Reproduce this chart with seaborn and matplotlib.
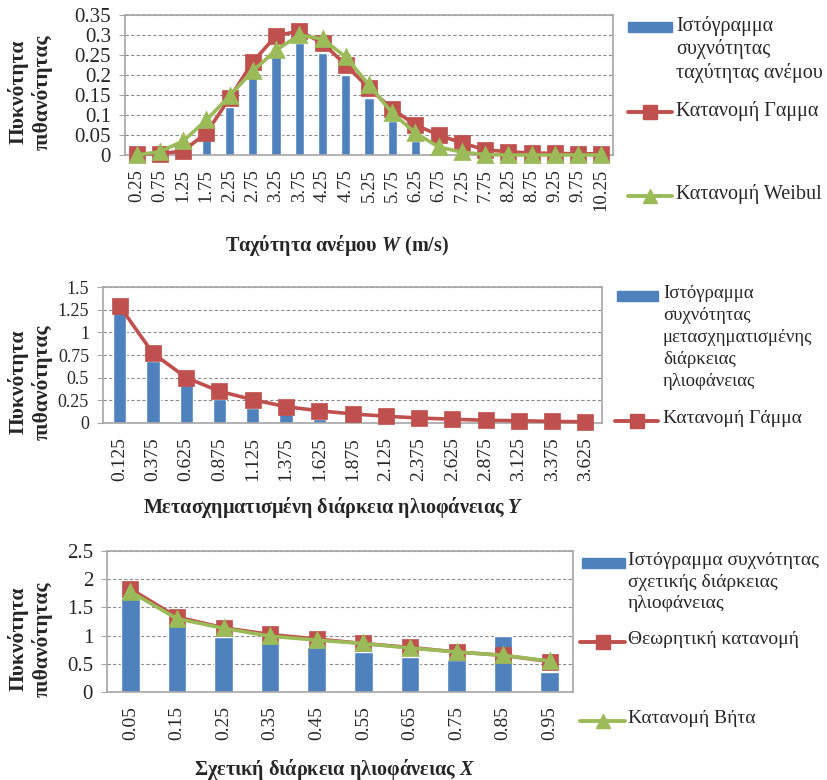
import matplotlib
matplotlib.use("Agg")
import matplotlib.pyplot as plt
from matplotlib.lines import Line2D
from matplotlib.patches import Rectangle
from matplotlib.ticker import FuncFormatter, MultipleLocator
import seaborn as sns

# --- data: wind speed W ---
w_bins = ["0.25", "0.75", "1.25", "1.75", "2.25", "2.75", "3.25", "3.75", "4.25", "4.75",
          "5.25", "5.75", "6.25", "6.75", "7.25", "7.75", "8.25", "8.75", "9.25", "9.75", "10.25"]
w_hist = [0, 0, 0, 0.04, 0.12, 0.2, 0.25, 0.28, 0.255, 0.2,
          0.142, 0.085, 0.035, 0, 0, 0, 0, 0, 0, 0, 0]
w_gamma = [0.002, 0.003, 0.01, 0.055, 0.142, 0.233, 0.298, 0.31, 0.28, 0.225,
           0.167, 0.115, 0.075, 0.05, 0.03, 0.013, 0.008, 0.005, 0.004, 0.003, 0.003]
w_weibull = [0, 0.008, 0.035, 0.087, 0.148, 0.21, 0.262, 0.3, 0.29, 0.245,
             0.175, 0.105, 0.055, 0.02, 0.007, 0.001, 0, 0, 0, 0, 0]

# --- data: transformed sunshine duration Y ---
y_bins = ["0.125", "0.375", "0.625", "0.875", "1.125", "1.375", "1.625", "1.875",
          "2.125", "2.375", "2.625", "2.875", "3.125", "3.375", "3.625"]
y_hist = [1.22, 0.68, 0.42, 0.26, 0.165, 0.1, 0.045, 0, 0, 0, 0, 0, 0, 0, 0]
y_gamma = [1.29, 0.77, 0.5, 0.35, 0.257, 0.18, 0.135, 0.1, 0.075, 0.055,
           0.042, 0.03, 0.025, 0.018, 0.013]

# --- data: relative sunshine duration X ---
x_bins = ["0.05", "0.15", "0.25", "0.35", "0.45", "0.55", "0.65", "0.75", "0.85", "0.95"]
x_hist = [1.66, 1.18, 0.975, 0.86, 0.79, 0.71, 0.62, 0.56, 0.99, 0.355]
x_theor = [1.83, 1.33, 1.14, 1.02, 0.94, 0.86, 0.79, 0.71, 0.65, 0.54]
x_beta = [1.78, 1.3, 1.13, 0.99, 0.92, 0.86, 0.78, 0.71, 0.65, 0.55]

BLUE = "#4F81BD"
RED = "#C0504D"
GREEN = "#9BBB59"
GRID = "#8C8C8C"
SPINE = "#A6A6A6"

sns.set_style("white")
plt.rcParams["font.family"] = ["Liberation Serif", "DejaVu Serif"]
plt.rcParams["mathtext.fontset"] = "custom"
plt.rcParams["mathtext.it"] = "Liberation Serif:italic:bold"
plt.rcParams["mathtext.rm"] = "Liberation Serif:bold"

W, H = 827, 780
fig = plt.figure(figsize=(W / 100, H / 100), dpi=100)


def box(l, t, r, b):
    return [l / W, 1 - b / H, (r - l) / W, (b - t) / H]


def draw_panel(ax, cats, hist, lines, ymax, ystep, ytick_size, xtick_size):
    sns.barplot(x=cats, y=hist, order=cats, color=BLUE, width=0.4,
                saturation=1, ax=ax, zorder=2)
    for vals, color, marker in lines:
        sns.pointplot(x=cats, y=vals, order=cats, color=color, marker=marker,
                      markersize=10, linewidth=2.6, errorbar=None, ax=ax)
    for i, ln in enumerate(ax.lines):
        ln.set_clip_on(False)
        ln.set_zorder(4 + i)
        ln.set_markeredgecolor(ln.get_color())
    ax.set_xlim(-0.5, len(cats) - 0.5)
    ax.set_ylim(0, ymax)
    ax.yaxis.set_major_locator(MultipleLocator(ystep))
    ax.yaxis.set_major_formatter(FuncFormatter(lambda v, _: f"{v:g}"))
    ax.yaxis.grid(True, color=GRID, linestyle=(0, (3, 2)), linewidth=0.8)
    ax.set_axisbelow(True)
    for s in ax.spines.values():
        s.set_color(SPINE)
        s.set_linewidth(1.2)
    ax.tick_params(axis="y", labelsize=ytick_size, length=4, color=SPINE, pad=6, left=True)
    ax.tick_params(axis="x", labelsize=xtick_size, length=0, pad=10, labelrotation=90)
    ax.set_xlabel("")
    ax.set_ylabel("")


def ylabel(xc, yc):
    fig.text(xc / W, 1 - yc / H, "Πυκνότητα\nπιθανότητας", rotation=90,
             ha="center", va="center", fontsize=15.5, fontweight="bold",
             linespacing=1.15, multialignment="center")


def key_bar(x0, x1, y):
    fig.add_artist(Rectangle((x0 / W, 1 - (y + 5) / H), (x1 - x0) / W, 10 / H,
                             transform=fig.transFigure, color=BLUE))


def key_line(x0, x1, y, color, marker):
    fig.add_artist(Line2D([x0 / W, x1 / W], [1 - y / H] * 2, color=color, lw=2.8,
                          transform=fig.transFigure))
    fig.add_artist(Line2D([(x0 + x1) / 2 / W], [1 - y / H], color=color, marker=marker,
                          ms=10, ls="", transform=fig.transFigure))


def key_text(x, y, txt, size=14, spacing=1.15):
    fig.text(x / W, 1 - (y - 12) / H, txt, ha="left", va="top", fontsize=size,
             linespacing=spacing)


# panel 1: wind speed
ax1 = fig.add_axes(box(125, 15, 613, 155))
draw_panel(ax1, w_bins, w_hist, [(w_gamma, RED, "s"), (w_weibull, GREEN, "^")],
           0.35, 0.05, 15, 13.5)
ylabel(30, 92)
fig.text(337 / W, 1 - 246 / H, "Ταχύτητα ανέμου $W$ (m/s)", ha="center", va="center",
         fontsize=14.5, fontweight="bold")
key_bar(628, 672, 27)
key_text(676, 28, "Ιστόγραμμα\nσυχνότητας\nταχύτητας ανέμου", 14.5, 1.22)
key_line(628, 672, 112, RED, "s")
key_text(676, 113, "Κατανομή Γαμμα", 14.5)
key_line(628, 672, 196, GREEN, "^")
key_text(676, 196, "Κατανομή Weibul", 14.5)

# panel 2: transformed sunshine duration
ax2 = fig.add_axes(box(103, 287, 602, 423))
draw_panel(ax2, y_bins, y_hist, [(y_gamma, RED, "s")], 1.5, 0.25, 13, 14)
ylabel(30, 382)
fig.text(333 / W, 1 - 508 / H, "Μετασχηματισμένη διάρκεια ηλιοφάνειας $Y$",
         ha="center", va="center", fontsize=14.5, fontweight="bold")
key_bar(617, 658, 296)
key_text(663, 297, "Ιστόγραμμα\nσυχνότητας\nμετασχηματισμένης\nδιάρκειας\nηλιοφάνειας",
         13.5, 1.38)
key_line(615, 658, 421, RED, "s")
key_text(663, 422, "Κατανομή Γάμμα", 14)

# panel 3: relative sunshine duration
ax3 = fig.add_axes(box(107, 551, 573, 692))
draw_panel(ax3, x_bins, x_hist, [(x_theor, RED, "s"), (x_beta, GREEN, "^")],
           2.5, 0.5, 15, 14)
ylabel(30, 639)
fig.text(334 / W, 1 - 769 / H, "Σχετική διάρκεια ηλιοφάνειας $X$",
         ha="center", va="center", fontsize=14.5, fontweight="bold")
key_bar(582, 625, 563)
key_text(628, 564, "Ιστόγραμμα συχνότητας\nσχετικής διάρκειας\nηλιοφάνειας", 14, 1.35)
key_line(580, 625, 642, RED, "s")
key_text(628, 643, "Θεωρητική κατανομή", 14)
key_line(580, 625, 721, GREEN, "^")
key_text(628, 722, "Κατανομή Βήτα", 14)

fig.savefig("out.png", dpi=100)
